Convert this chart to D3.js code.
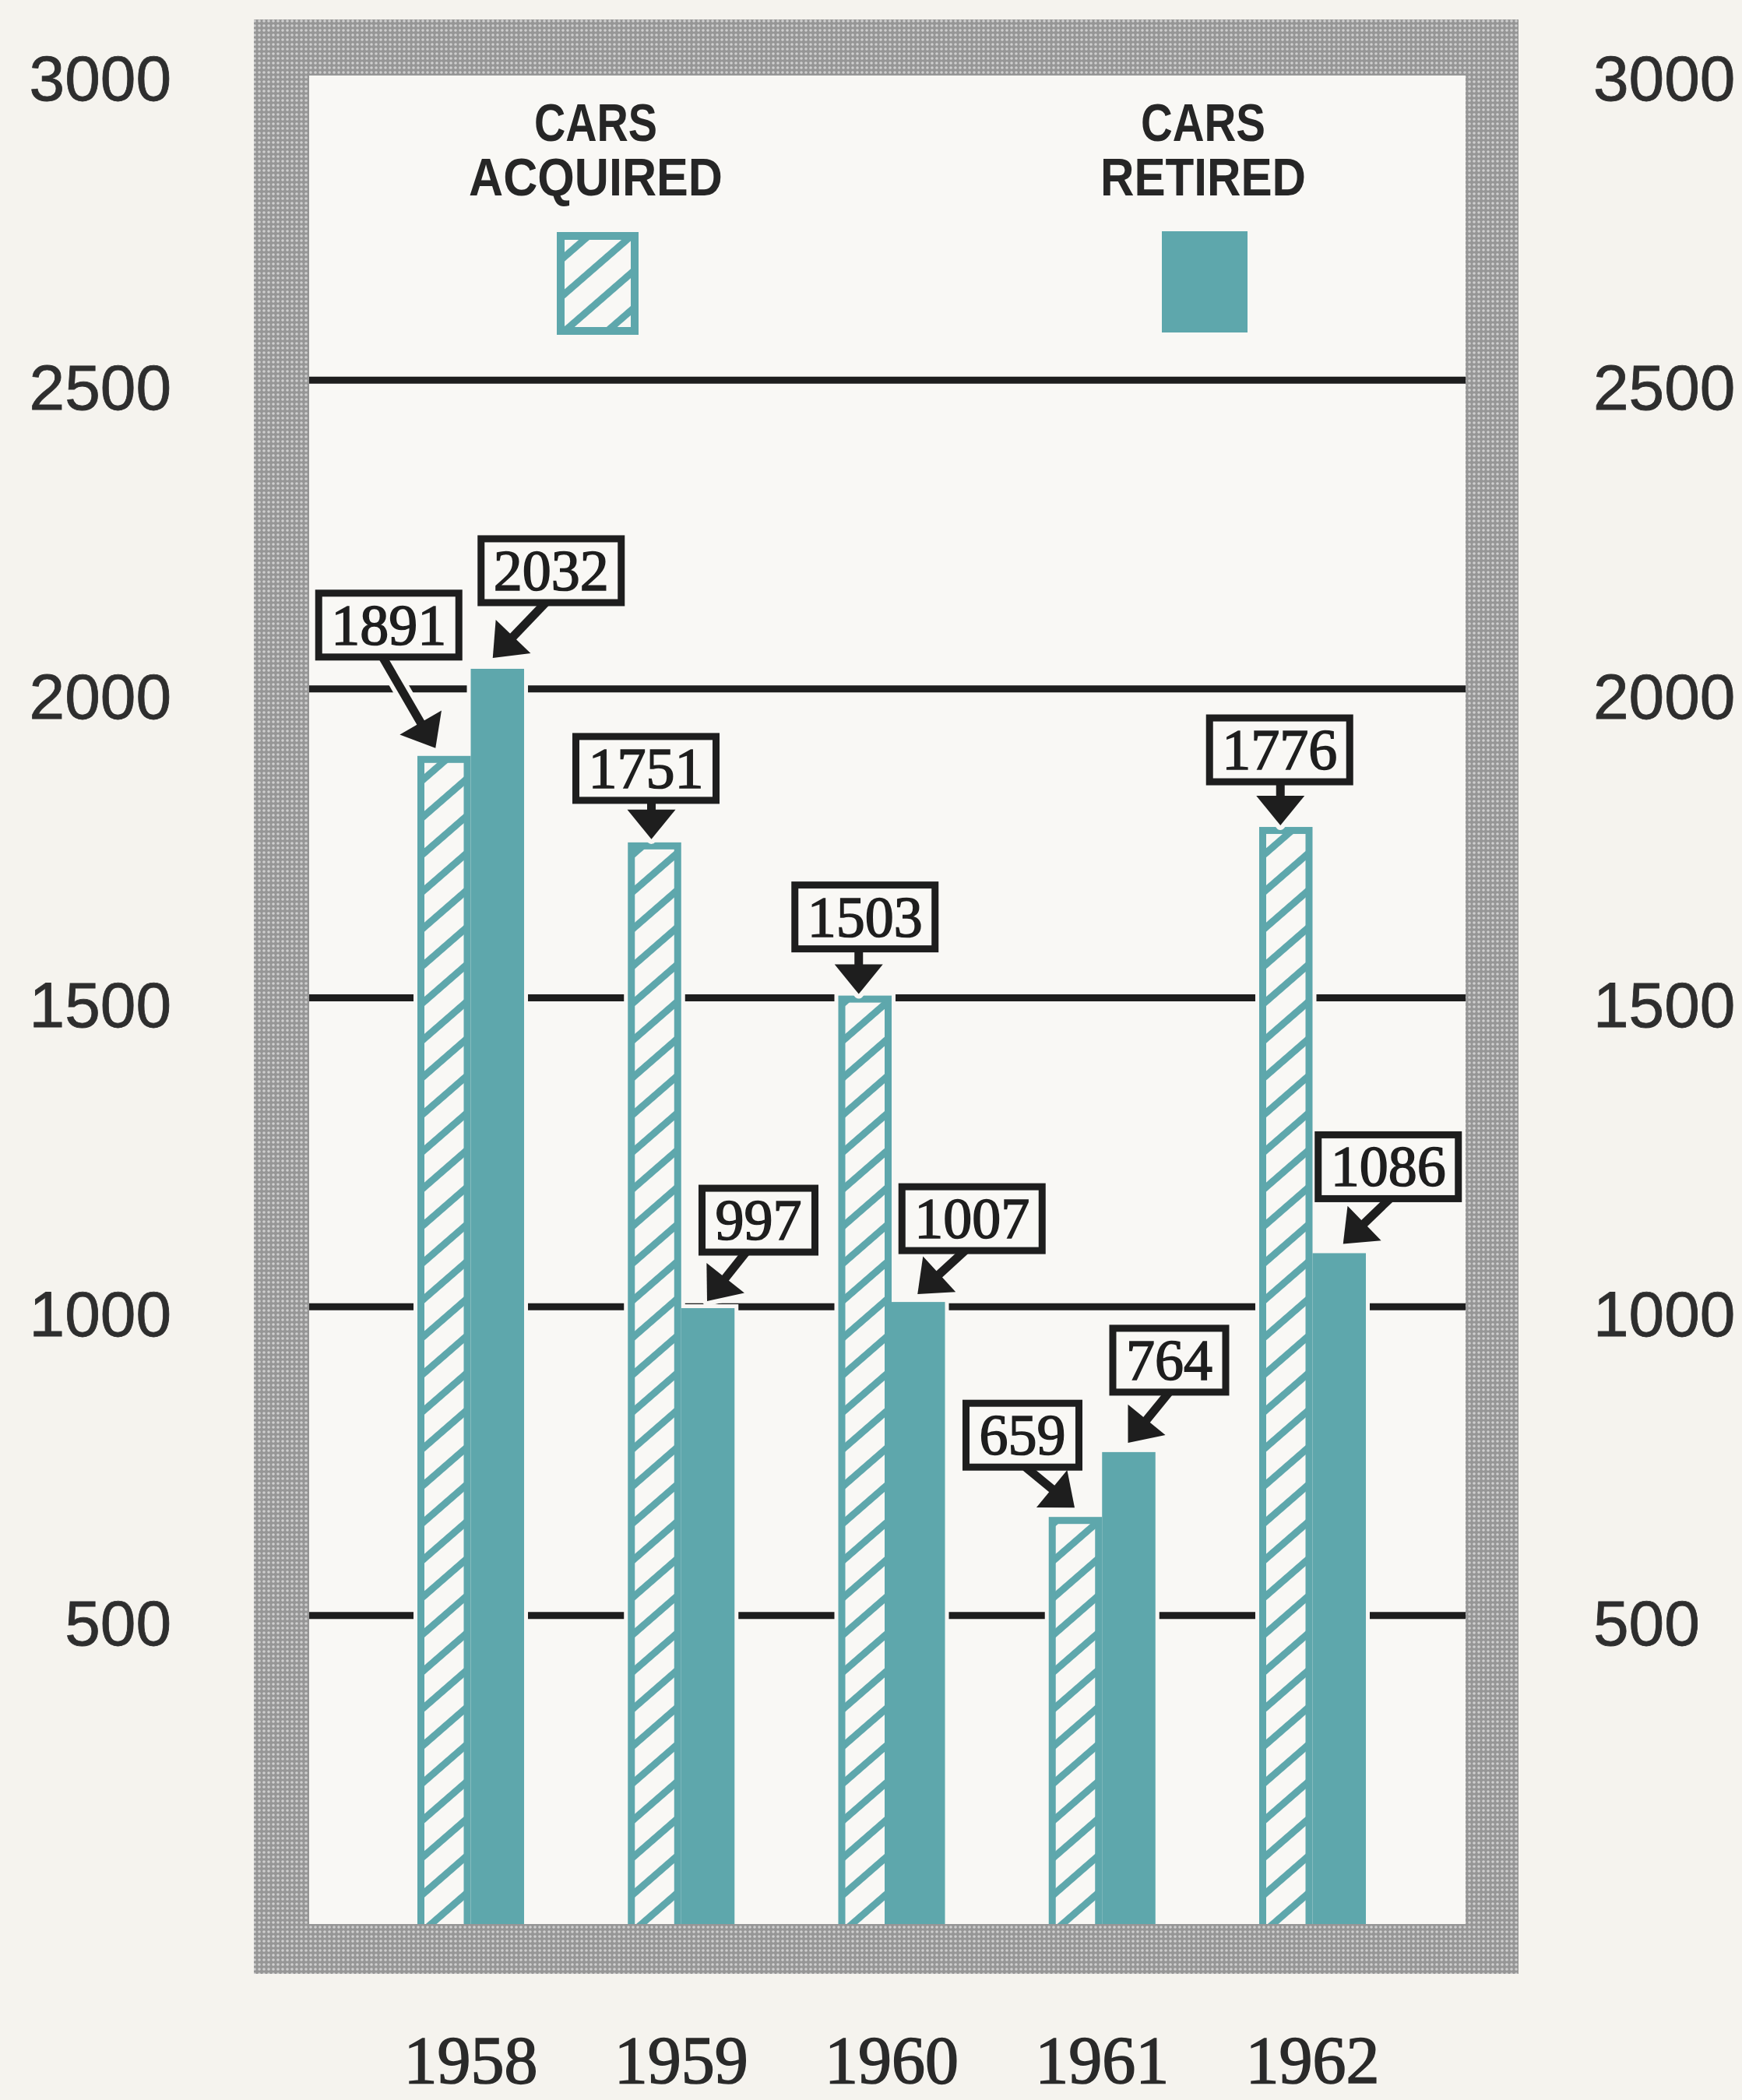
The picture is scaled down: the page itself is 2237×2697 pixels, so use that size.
<!DOCTYPE html>
<html>
<head>
<meta charset="utf-8">
<script src="https://cdn.jsdelivr.net/npm/d3@7"></script>
<style>
  html, body { margin: 0; padding: 0; background: #f5f3ee; }
  svg { display: block; }
</style>
</head>
<body>
<svg id="chart" width="2237" height="2697"></svg>
<script>
// ---- data ----
const years = ["1958", "1959", "1960", "1961", "1962"];
const carsAcquired = [1891, 1751, 1503, 659, 1776];
const carsRetired = [2032, 997, 1007, 764, 1086];
const seriesKeys = ["acquired", "retired"];
const seriesLabels = [["CARS", "ACQUIRED"], ["CARS", "RETIRED"]];
const gridValues = [500, 1000, 1500, 2000, 2500];
const axisValues = [500, 1000, 1500, 2000, 2500, 3000];

// ---- callout placement, relative to the top centre of each bar ----
// bx/by: box centre, tx/ty: arrow tip, sx: shaft start along the box's lower edge
const calloutAcquired = [
  { bx: -71, by: -168, tx: -11, ty: -10, sx: -8 },
  { bx: -11, by: -95,  tx: -4,  ty: -4,  sx: 7 },
  { bx: 0,   by: -101, tx: -8,  ty: -2,  sx: -8 },
  { bx: -68, by: -105, tx: -1,  ty: -12, sx: 4 },
  { bx: -8,  by: -99,  tx: -7,  ty: -2,  sx: 1 }
];
const calloutRetired = [
  { bx: 69, by: -126, tx: -6, ty: -14, sx: -7 },
  { bx: 65, by: -113, tx: -1, ty: -9,  sx: -16 },
  { bx: 69, by: -107, tx: -1, ty: -10, sx: -9 },
  { bx: 52, by: -118, tx: -1, ty: -12, sx: 0 },
  { bx: 63, by: -111, tx: 5,  ty: -12, sx: 2 }
];

// ---- styling ----
const TEAL = "#5ea7ac";
const INK = "#1e1e1e";
const PAPER = "#f5f3ee";
const PANEL = "#f9f8f5";

const frame = { x0: 326, y0: 25, x1: 1950, y1: 2535 };
const panel = { x0: 397, y0: 97, x1: 1882, y1: 2471 };

const svg = d3.select("#chart");
svg.append("rect").attr("width", 2237).attr("height", 2697).attr("fill", PAPER);

const defs = svg.append("defs");

// halftone grey used for the frame
const dots = defs.append("pattern")
  .attr("id", "halftone").attr("patternUnits", "userSpaceOnUse")
  .attr("width", 6).attr("height", 6);
dots.append("rect").attr("width", 6).attr("height", 6).attr("fill", "#969696");
dots.append("circle").attr("cx", 3).attr("cy", 3).attr("r", 1.8).attr("fill", "#cfcfcf");

// diagonal hatching for the "acquired" bars
const hatch = defs.append("pattern")
  .attr("id", "hatch").attr("patternUnits", "userSpaceOnUse")
  .attr("width", 40).attr("height", 36)
  .attr("patternTransform", "rotate(-41)");
hatch.append("rect").attr("width", 40).attr("height", 36).attr("fill", PANEL);
hatch.append("rect").attr("width", 40).attr("height", 9).attr("fill", TEAL);

defs.append("clipPath").attr("id", "panelClip")
  .append("rect")
  .attr("x", panel.x0).attr("y", panel.y0)
  .attr("width", panel.x1 - panel.x0).attr("height", panel.y1 - panel.y0);

// ---- frame ----
svg.append("rect")
  .attr("x", frame.x0).attr("y", frame.y0)
  .attr("width", frame.x1 - frame.x0).attr("height", frame.y1 - frame.y0)
  .attr("fill", "url(#halftone)");
svg.append("rect")
  .attr("x", panel.x0).attr("y", panel.y0)
  .attr("width", panel.x1 - panel.x0).attr("height", panel.y1 - panel.y0)
  .attr("fill", PANEL);

// ---- scales ----
const y = d3.scaleLinear().domain([0, 3000]).range([panel.y1, 91]);
const x = d3.scaleBand().domain(years).range([536, 1754]).paddingInner(0.493).paddingOuter(0);
const xs = d3.scaleBand().domain(seriesKeys).range([0, x.bandwidth()]);

// ---- gridlines ----
const grid = svg.append("g")
  .attr("transform", `translate(${panel.x0},0)`)
  .call(d3.axisLeft(y).tickValues(gridValues).tickSize(-(panel.x1 - panel.x0)).tickFormat(""));
grid.select(".domain").remove();
grid.selectAll(".tick line").attr("stroke", INK).attr("stroke-width", 9);

// ---- value axes on both sides ----
function styleAxis(g) {
  g.select(".domain").remove();
  g.selectAll(".tick line").remove();
  g.selectAll(".tick text")
    .attr("font-family", "'Liberation Sans', Arial, sans-serif")
    .attr("font-size", 82)
    .attr("fill", "#2e2e2e")
    .attr("stroke", "#2e2e2e").attr("stroke-width", 0.8)
    .attr("dy", "0.46em");
}
svg.append("g")
  .attr("transform", "translate(220,0)")
  .call(d3.axisLeft(y).tickValues(axisValues).tickSize(0).tickPadding(0).tickFormat(d3.format("d")))
  .call(styleAxis);
svg.append("g")
  .attr("transform", "translate(2046,0)")
  .call(d3.axisRight(y).tickValues(axisValues).tickSize(0).tickPadding(0).tickFormat(d3.format("d")))
  .call(styleAxis);

// ---- year axis ----
const yearAxis = svg.append("g")
  .attr("transform", "translate(0,2675)")
  .call(d3.axisBottom(x).tickSize(0).tickPadding(0));
yearAxis.select(".domain").remove();
yearAxis.selectAll(".tick text")
  .attr("y", 0).attr("dy", 0)
  .attr("font-family", "'Liberation Serif', 'Times New Roman', serif")
  .attr("font-size", 86)
  .attr("fill", "#2a2a2a")
  .attr("stroke", "#2a2a2a").attr("stroke-width", 1.6)
  .attr("textLength", 172)
  .attr("lengthAdjust", "spacingAndGlyphs");

// ---- bars ----
const rows = years.map((yr, i) => ({
  year: yr,
  values: [
    { key: "acquired", value: carsAcquired[i], callout: calloutAcquired[i] },
    { key: "retired", value: carsRetired[i], callout: calloutRetired[i] }
  ]
}));

const plot = svg.append("g").attr("clip-path", "url(#panelClip)");
const groups = plot.selectAll("g.year").data(rows).join("g")
  .attr("class", "year")
  .attr("transform", d => `translate(${x(d.year)},0)`);

// light halo that knocks the gridlines out around each bar
groups.selectAll("rect.halo").data(d => d.values).join("rect")
  .attr("class", "halo")
  .attr("x", d => xs(d.key) - 5)
  .attr("y", d => y(d.value) - 5)
  .attr("width", xs.bandwidth() + 10)
  .attr("height", d => y(0) - y(d.value) + 10)
  .attr("fill", PANEL);

groups.selectAll("rect.bar").data(d => d.values).join("rect")
  .attr("class", "bar")
  .attr("x", d => d.key === "acquired" ? xs(d.key) + 4.5 : xs(d.key))
  .attr("y", d => d.key === "acquired" ? y(d.value) + 4.5 : y(d.value))
  .attr("width", d => d.key === "acquired" ? xs.bandwidth() - 9 : xs.bandwidth())
  .attr("height", d => y(0) - y(d.value) + 20)
  .attr("fill", d => d.key === "acquired" ? "url(#hatch)" : TEAL)
  .attr("stroke", d => d.key === "acquired" ? TEAL : "none")
  .attr("stroke-width", 9);

// ---- value callouts ----
const callouts = [];
rows.forEach(r => r.values.forEach(v => {
  const cx = x(r.year) + xs(v.key) + xs.bandwidth() / 2;
  const top = y(v.value);
  callouts.push({ value: v.value, c: v.callout, cx, top });
}));

const calloutLayer = svg.append("g");
const HEAD_L = 38, HEAD_W = 62;

callouts.forEach(d => {
  const text = String(d.value);
  const boxW = text.length * 35 + 40;
  const boxH = 82;
  const bcx = d.cx + d.c.bx, bcy = d.top + d.c.by;
  const tip = [d.cx + d.c.tx, d.top + d.c.ty];
  const start = [bcx + d.c.sx, bcy + boxH / 2];
  const dx = tip[0] - start[0], dy = tip[1] - start[1];
  const len = Math.hypot(dx, dy);
  const ux = dx / len, uy = dy / len;
  const base = [tip[0] - ux * HEAD_L, tip[1] - uy * HEAD_L];
  const px = -uy, py = ux;
  const head = [
    tip,
    [base[0] + px * HEAD_W / 2, base[1] + py * HEAD_W / 2],
    [base[0] - px * HEAD_W / 2, base[1] - py * HEAD_W / 2]
  ];
  const g = calloutLayer.append("g");
  // halo
  g.append("line")
    .attr("x1", start[0]).attr("y1", start[1])
    .attr("x2", base[0] + ux * 4).attr("y2", base[1] + uy * 4)
    .attr("stroke", PANEL).attr("stroke-width", 22);
  g.append("polygon").attr("points", head.map(p => p.join(",")).join(" "))
    .attr("fill", PANEL).attr("stroke", PANEL).attr("stroke-width", 12)
    .attr("stroke-linejoin", "round");
  // arrow
  g.append("line")
    .attr("x1", start[0]).attr("y1", start[1])
    .attr("x2", base[0] + ux * 4).attr("y2", base[1] + uy * 4)
    .attr("stroke", INK).attr("stroke-width", 11);
  g.append("polygon").attr("points", head.map(p => p.join(",")).join(" "))
    .attr("fill", INK);
  // box
  g.append("rect")
    .attr("x", bcx - boxW / 2).attr("y", bcy - boxH / 2)
    .attr("width", boxW).attr("height", boxH)
    .attr("fill", PANEL).attr("stroke", INK).attr("stroke-width", 9);
  g.append("text")
    .attr("x", bcx).attr("y", bcy + 25)
    .attr("text-anchor", "middle")
    .attr("font-family", "'Liberation Serif', 'Times New Roman', serif")
    .attr("font-size", 74)
    .attr("fill", INK)
    .attr("stroke", INK).attr("stroke-width", 1.6)
    .text(text);
});

// ---- legend ----
const legendCentres = [765, 1545];
const legendWidths = [[158, 326], [160, 264]];
const legend = svg.append("g");
seriesLabels.forEach((lines, i) => {
  lines.forEach((line, j) => {
    legend.append("text")
      .attr("x", legendCentres[i]).attr("y", j === 0 ? 181 : 251)
      .attr("text-anchor", "middle")
      .attr("font-family", "'Liberation Sans', Arial, sans-serif")
      .attr("font-weight", "bold")
      .attr("font-size", 68)
      .attr("fill", "#262626")
      .attr("textLength", legendWidths[i][j])
      .attr("lengthAdjust", "spacingAndGlyphs")
      .text(line);
  });
});
legend.append("rect")
  .attr("x", 720).attr("y", 303).attr("width", 95).attr("height", 122)
  .attr("fill", "url(#hatch)").attr("stroke", TEAL).attr("stroke-width", 10);
legend.append("rect")
  .attr("x", 1492).attr("y", 297).attr("width", 110).attr("height", 130)
  .attr("fill", TEAL);
</script>
</body>
</html>
